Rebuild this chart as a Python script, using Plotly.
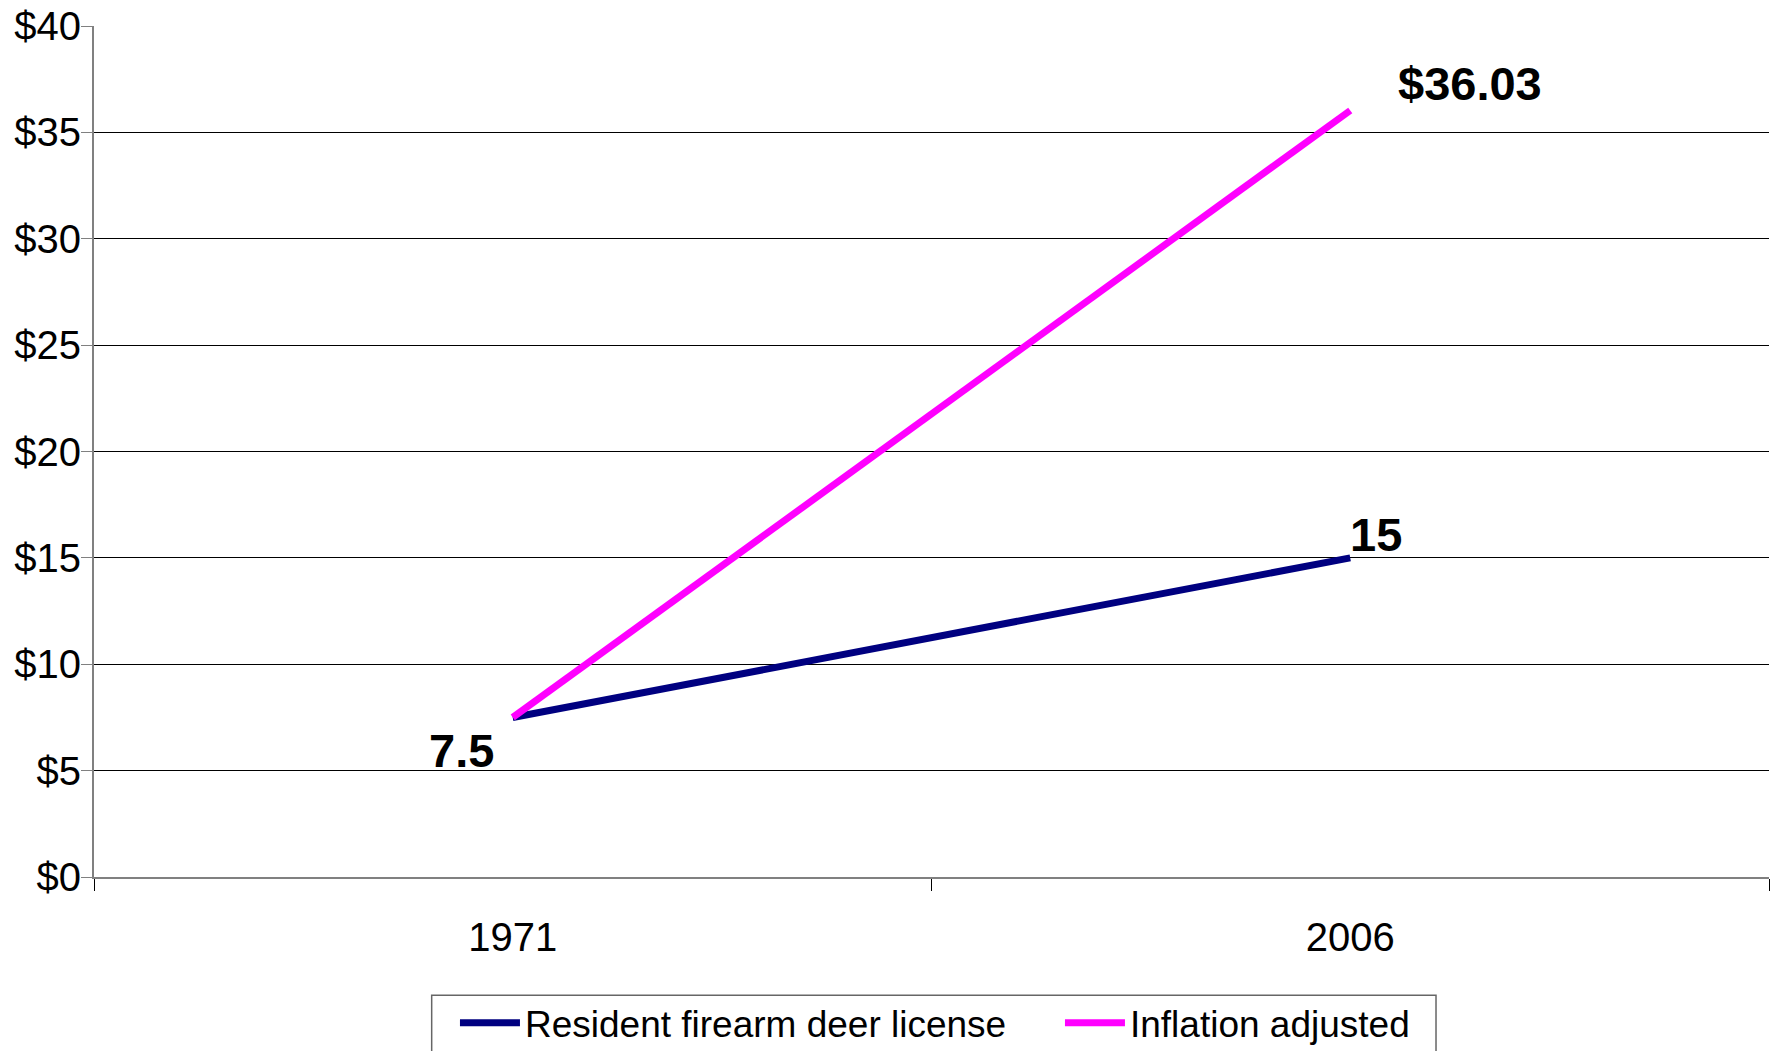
import plotly.graph_objects as go

# License fee data
years = ["1971", "2006"]
resident_fee = [7.5, 15]
inflation_adjusted = [7.5, 36.03]
y_ticks = [0, 5, 10, 15, 20, 25, 30, 35, 40]
y_tick_text = ["$" + str(v) for v in y_ticks]

FONT = "Liberation Sans, Arial, sans-serif"

fig = go.Figure()
fig.add_trace(go.Scatter(
    x=years, y=resident_fee, mode="lines",
    name="Resident firearm deer license",
    line=dict(color="#000080", width=7),
))
fig.add_trace(go.Scatter(
    x=years, y=inflation_adjusted, mode="lines",
    name="Inflation adjusted",
    line=dict(color="#FF00FF", width=7),
))

# Value labels at the series end points (category index positions)
first, last = 0, len(years) - 1
label_font = dict(family=FONT, size=47, color="black")
fig.add_annotation(x=last, y=inflation_adjusted[last], xref="x", yref="y",
                   text="<b>$%.2f</b>" % inflation_adjusted[last], showarrow=False,
                   xanchor="left", yanchor="middle", xshift=46, yshift=27,
                   font=label_font)
fig.add_annotation(x=last, y=resident_fee[last], xref="x", yref="y",
                   text="<b>%g</b>" % resident_fee[last], showarrow=False,
                   xanchor="left", yanchor="middle", xshift=-2, yshift=23,
                   font=label_font)
fig.add_annotation(x=first, y=resident_fee[first], xref="x", yref="y",
                   text="<b>%g</b>" % resident_fee[first], showarrow=False,
                   xanchor="right", yanchor="middle", xshift=-17, yshift=-33,
                   font=label_font)

# Legend frame, running off the bottom edge of the page
fig.add_shape(type="rect", xref="paper", yref="paper",
              x0=0.2016, x1=0.8012, y0=-0.139, y1=-0.23,
              line=dict(color="#666666", width=1.5), fillcolor="white",
              layer="below")

fig.update_layout(
    width=1776, height=1051,
    margin=dict(l=94, r=7, t=26, b=174, autoexpand=False),
    paper_bgcolor="white", plot_bgcolor="white",
    font=dict(family=FONT, color="black"),
    showlegend=True,
    legend=dict(
        orientation="h", x=0.2155, xanchor="left", y=-0.1355, yanchor="top",
        font=dict(family=FONT, size=37, color="black"),
        borderwidth=0, bgcolor="rgba(0,0,0,0)",
        itemwidth=60, entrywidth=530, entrywidthmode="pixels",
    ),
    xaxis=dict(
        type="category", range=[-0.5, 1.5],
        showline=True, linecolor="#808080", linewidth=2,
        showgrid=False, zeroline=False,
        ticks="outside", tickson="boundaries", ticklen=12, tickcolor="black",
        tickwidth=1,
        tickfont=dict(family=FONT, size=40, color="black"),
        ticklabelstandoff=24,
    ),
    yaxis=dict(
        range=[0, 40], tickvals=y_ticks, ticktext=y_tick_text,
        showline=True, linecolor="#808080", linewidth=2,
        showgrid=True, gridcolor="black", gridwidth=1,
        zeroline=False,
        ticks="outside", ticklen=11, tickcolor="#808080", tickwidth=1,
        tickfont=dict(family=FONT, size=40, color="black"),
        ticklabelstandoff=-8,
    ),
)

fig.write_html("out.html")
